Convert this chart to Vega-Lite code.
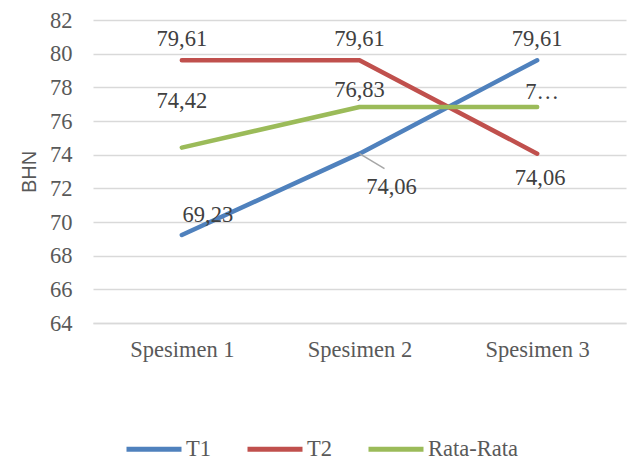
{
  "$schema": "https://vega.github.io/schema/vega-lite/v6.json",
  "width": 533,
  "height": 303,
  "autosize": {"type": "none"},
  "padding": {"left": 93, "top": 20, "right": 6, "bottom": 139},
  "background": "white",
  "config": {
    "view": {"stroke": null},
    "locale": {"number": {"decimal": ",", "thousands": ".", "grouping": [3], "currency": ["", ""]}},
    "text": {"font": "Liberation Serif", "fontSize": 22.5, "color": "#404040", "baseline": "middle", "align": "center"}
  },
  "data": {
    "values": [
      {"spesimen": "Spesimen 1", "seri": "T1", "bhn": 69.23},
      {"spesimen": "Spesimen 2", "seri": "T1", "bhn": 74.06},
      {"spesimen": "Spesimen 3", "seri": "T1", "bhn": 79.61},
      {"spesimen": "Spesimen 1", "seri": "T2", "bhn": 79.61},
      {"spesimen": "Spesimen 2", "seri": "T2", "bhn": 79.61},
      {"spesimen": "Spesimen 3", "seri": "T2", "bhn": 74.06},
      {"spesimen": "Spesimen 1", "seri": "Rata-Rata", "bhn": 74.42},
      {"spesimen": "Spesimen 2", "seri": "Rata-Rata", "bhn": 76.83},
      {"spesimen": "Spesimen 3", "seri": "Rata-Rata", "bhn": 76.83}
    ]
  },
  "encoding": {
    "x": {
      "field": "spesimen", "type": "nominal",
      "scale": {"type": "point", "padding": 0.5},
      "axis": {"title": null, "labelAngle": 0, "labelFont": "Liberation Serif", "labelFontSize": 22.5, "labelColor": "#595959", "ticks": false, "domain": true, "domainColor": "#D9D9D9", "domainWidth": 1.5, "labelPadding": 15}
    },
    "y": {
      "field": "bhn", "type": "quantitative",
      "scale": {"domain": [64, 82], "nice": false, "zero": false},
      "axis": {"title": "BHN", "values": [64, 66, 68, 70, 72, 74, 76, 78, 80, 82], "labelFont": "Liberation Serif", "labelFontSize": 22.5, "labelColor": "#595959", "ticks": false, "domain": false, "labelPadding": 21, "gridColor": "#D9D9D9", "gridWidth": 1.5, "titleFont": "Liberation Sans", "titleFontSize": 20, "titleFontWeight": "normal", "titleColor": "#595959", "titlePadding": 10}
    }
  },
  "layer": [
    {
      "mark": {"type": "line", "strokeWidth": 4.5, "strokeCap": "round", "strokeJoin": "round"},
      "encoding": {
        "color": {
          "field": "seri", "type": "nominal",
          "scale": {"domain": ["T1", "T2", "Rata-Rata"], "range": ["#4F81BD", "#C0504D", "#9BBB59"]},
          "legend": {"title": null, "orient": "none", "legendX": 31, "legendY": 399, "direction": "horizontal", "symbolType": "stroke", "symbolSize": 3025, "symbolStrokeWidth": 5, "labelFont": "Liberation Serif", "labelFontSize": 22.5, "labelColor": "#595959", "columnPadding": 26, "labelOffset": 2}
        }
      }
    },
    {
      "transform": [{"filter": "(datum.seri == 'T2' && datum.spesimen != 'Spesimen 3') || (datum.seri == 'T1' && datum.spesimen == 'Spesimen 3')"}],
      "mark": {"type": "text", "dy": -21},
      "encoding": {"text": {"field": "bhn", "type": "quantitative", "format": ".2f"}}
    },
    {
      "transform": [{"filter": "datum.seri == 'Rata-Rata' && datum.spesimen == 'Spesimen 1'"}],
      "mark": {"type": "text", "dy": -47},
      "encoding": {"text": {"field": "bhn", "type": "quantitative", "format": ".2f"}}
    },
    {
      "transform": [{"filter": "datum.seri == 'Rata-Rata' && datum.spesimen == 'Spesimen 2'"}],
      "mark": {"type": "text", "dy": -17},
      "encoding": {"text": {"field": "bhn", "type": "quantitative", "format": ".2f"}}
    },
    {
      "transform": [{"filter": "datum.seri == 'Rata-Rata' && datum.spesimen == 'Spesimen 3'"}],
      "mark": {"type": "text", "dy": -15, "dx": 5, "limit": 35},
      "encoding": {"text": {"field": "bhn", "type": "quantitative", "format": ".2f"}}
    },
    {
      "transform": [{"filter": "datum.seri == 'T1' && datum.spesimen == 'Spesimen 1'"}],
      "mark": {"type": "text", "dy": -20, "dx": 26},
      "encoding": {"text": {"field": "bhn", "type": "quantitative", "format": ".2f"}}
    },
    {
      "transform": [{"filter": "datum.seri == 'T1' && datum.spesimen == 'Spesimen 2'"}],
      "mark": {"type": "rule", "color": "#A6A6A6", "strokeWidth": 1.5, "x2Offset": 25, "y2Offset": 15},
      "encoding": {
        "x2": {"field": "spesimen"},
        "y2": {"field": "bhn"}
      }
    },
    {
      "transform": [{"filter": "datum.seri == 'T1' && datum.spesimen == 'Spesimen 2'"}],
      "mark": {"type": "text", "dy": 33, "dx": 32},
      "encoding": {"text": {"field": "bhn", "type": "quantitative", "format": ".2f"}}
    },
    {
      "transform": [{"filter": "datum.seri == 'T2' && datum.spesimen == 'Spesimen 3'"}],
      "mark": {"type": "text", "dy": 24, "dx": 3},
      "encoding": {"text": {"field": "bhn", "type": "quantitative", "format": ".2f"}}
    }
  ]
}
